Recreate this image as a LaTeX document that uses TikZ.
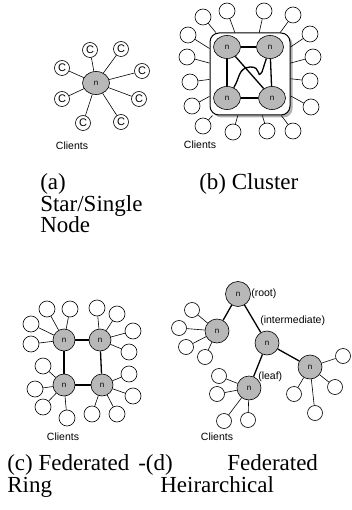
\documentclass[tikz,border=0pt]{standalone}
\usepackage{fontspec}
\setmainfont{Liberation Serif}
\newfontfamily\labelfont{Liberation Sans}
\usetikzlibrary{shapes.geometric,shadows}

\begin{document}
\begin{tikzpicture}[x=1pt,y=-1pt,semithick]
  \tikzstyle{hub}=[ellipse,draw=black,fill=black!28,inner sep=0pt,minimum width=27pt,
                   minimum height=23pt,font=\labelfont\fontsize{8}{8}\selectfont]
  \tikzstyle{hubc}=[hub,circle,minimum size=22pt]
  \tikzstyle{client}=[circle,draw=black,fill=white,inner sep=0pt,minimum size=16pt]
  \tikzstyle{cclient}=[client,minimum size=15pt,font=\labelfont\fontsize{11}{11}\selectfont]
  \tikzstyle{link}=[line width=1.3pt]
  \tikzstyle{tag}=[font=\labelfont\fontsize{10.5}{12}\selectfont,inner sep=0pt]
  \tikzstyle{caption}=[font=\fontsize{23}{21.5}\selectfont,anchor=base west,inner sep=0pt]

  \useasboundingbox (0,0) rectangle (352,510);

  % (a) star / single node
  \node[hub] (a0) at (96,83) {n};
  \node[cclient] (ac1) at (90,50) {C};
  \node[cclient] (ac2) at (121,49) {C};
  \node[cclient] (ac3) at (62,68) {C};
  \node[cclient] (ac4) at (142,71) {C};
  \node[cclient] (ac5) at (62,99) {C};
  \node[cclient] (ac6) at (139,99) {C};
  \node[cclient] (ac7) at (83,123) {C};
  \node[cclient] (ac8) at (121,122) {C};
  \path[draw] (a0) edge (ac1) edge (ac2) edge (ac3) edge (ac4)
                   edge (ac5) edge (ac6) edge (ac7) edge (ac8);
  \node[tag] (atag) at (72,146) {Clients};
  \node[caption] (acap1) at (40,190) {(a)};
  \node[caption] (acap2) at (40,212) {Star/Single};
  \node[caption] (acap3) at (40,233) {Node};

  % (b) cluster
  \node[draw=black,fill=white,line width=1pt,rounded corners=9pt,minimum width=80pt,
        minimum height=82pt,drop shadow={shadow xshift=2.5pt,shadow yshift=-2.5pt,fill=black!60}]
        (box) at (250,74) {};
  \node[hub] (b1) at (227,47) {n};
  \node[hub] (b2) at (270,47) {n};
  \node[hub] (b3) at (227,98) {n};
  \node[hub] (b4) at (272,98) {n};
  \path[link] (b1) edge (b2) edge (b3) edge (b4)
              (b4) edge (b2) edge (b3);
  \draw[link] (b3) .. controls (240,78) and (238,68) .. (250,67)
                   .. controls (262,66) and (256,80) .. (262,72) -- (b2);
  \node[client] (bc1) at (203,17) {};
  \node[client] (bc2) at (227,11) {};
  \node[client] (bc3) at (264,11) {};
  \node[client] (bc4) at (293,15) {};
  \node[client] (bc5) at (188,35) {};
  \node[client] (bc6) at (187,57) {};
  \node[client] (bc7) at (190,82) {};
  \node[client] (bc8) at (192,106) {};
  \node[client] (bc9) at (203,126) {};
  \node[client] (bc10) at (233,132) {};
  \node[client] (bc11) at (267,131) {};
  \node[client] (bc12) at (293,131) {};
  \node[client] (bc13) at (310,34) {};
  \node[client] (bc14) at (313,57) {};
  \node[client] (bc15) at (310,81) {};
  \node[client] (bc16) at (311,107) {};
  \path[draw] (box) edge (bc1) edge (bc2) edge (bc3) edge (bc4)
                    edge (bc5) edge (bc6) edge (bc7) edge (bc8)
                    edge (bc9) edge (bc10) edge (bc11) edge (bc12)
                    edge (bc13) edge (bc14) edge (bc15) edge (bc16);
  \node[tag] (btag) at (200,145) {Clients};
  \node[caption] (bcap) at (199,190) {(b) Cluster};

  % (c) federated ring
  \node[hubc] (c1) at (64,340) {n};
  \node[hubc] (c2) at (100,340) {n};
  \node[hubc] (c3) at (64,385) {n};
  \node[hubc] (c4) at (102,385) {n};
  \path[link] (c1) edge (c2) edge (c3)
              (c4) edge (c2) edge (c3);
  \node[client] (cc1) at (47,309) {};
  \node[client] (cc2) at (70,309) {};
  \node[client] (cc3) at (31,324) {};
  \node[client] (cc4) at (31,344) {};
  \node[client] (cc5) at (97,308) {};
  \node[client] (cc6) at (117,314) {};
  \node[client] (cc7) at (133,331) {};
  \node[client] (cc8) at (129,352) {};
  \node[client] (cc9) at (43,366) {};
  \node[client] (cc10) at (35,389) {};
  \node[client] (cc11) at (43,407) {};
  \node[client] (cc12) at (67,418) {};
  \node[client] (cc13) at (129,374) {};
  \node[client] (cc14) at (133,396) {};
  \node[client] (cc15) at (117,414) {};
  \node[client] (cc16) at (92,414) {};
  \path[draw] (c1) edge (cc1) edge (cc2) edge (cc3) edge (cc4)
              (c2) edge (cc5) edge (cc6) edge (cc7) edge (cc8)
              (c3) edge (cc9) edge (cc10) edge (cc11) edge (cc12)
              (c4) edge (cc13) edge (cc14) edge (cc15) edge (cc16);
  \node[tag] (ctag) at (63,437) {Clients};

  % (d) federated hierarchical
  \node[hubc,minimum size=25pt] (d1) at (238,294) {n};
  \node[hubc,minimum size=24pt] (d2) at (217,331) {n};
  \node[hubc,minimum size=24pt] (d3) at (267,343) {n};
  \node[hubc,minimum size=24pt] (d4) at (310,367) {n};
  \node[hubc,minimum size=24pt] (d5) at (249,388) {n};
  \path[link] (d1) edge (d2) edge (d3)
              (d3) edge (d4) edge (d5);
  \node[client,minimum size=15pt] (dc1) at (192,310) {};
  \node[client,minimum size=15pt] (dc2) at (179,328) {};
  \node[client,minimum size=15pt] (dc3) at (186,347) {};
  \node[client,minimum size=15pt] (dc4) at (205,357) {};
  \node[client,minimum size=15pt] (dc5) at (219,376) {};
  \node[client,minimum size=15pt] (dc6) at (217,394) {};
  \node[client,minimum size=15pt] (dc7) at (224,421) {};
  \node[client,minimum size=15pt] (dc8) at (248,420) {};
  \node[client,minimum size=15pt] (dc9) at (343,356) {};
  \node[client,minimum size=15pt] (dc10) at (335,387) {};
  \node[client,minimum size=15pt] (dc11) at (315,413) {};
  \node[client,minimum size=15pt] (dc12) at (294,394) {};
  \path[draw] (d2) edge (dc1) edge (dc2) edge (dc3) edge (dc4)
              (d5) edge (dc5) edge (dc6) edge (dc7) edge (dc8)
              (d4) edge (dc9) edge (dc10) edge (dc11) edge (dc12);
  \node[tag,anchor=west] (droot) at (251,294) {(root)};
  \node[tag,anchor=west] (dmid) at (260,321) {(intermediate)};
  \node[tag,anchor=west] (dleaf) at (258,377) {(leaf)};
  \node[tag] (dtag) at (217,437) {Clients};

  % captions of (c) and (d)
  \node[caption] (ccap1) at (7,470) {(c) Federated};
  \node[caption] (ccap2) at (7,492) {Ring};
  \node[caption] (dcap1) at (138,470) {-(d)};
  \node[caption] (dcap2) at (227,470) {Federated};
  \node[caption] (dcap3) at (160,492) {Heirarchical};
\end{tikzpicture}
\end{document}
